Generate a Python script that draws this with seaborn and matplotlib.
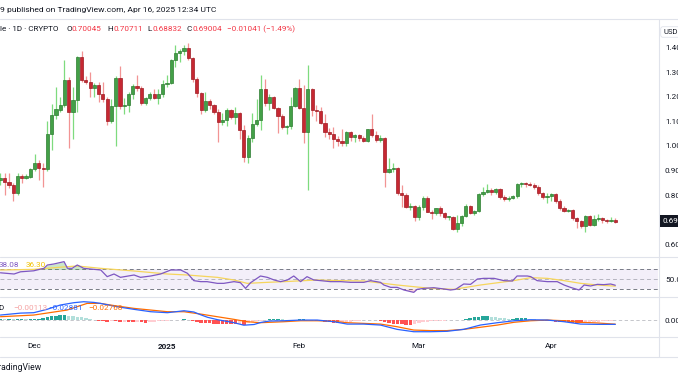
import numpy as np
import pandas as pd
import matplotlib
matplotlib.use("Agg")
import matplotlib.pyplot as plt
import seaborn as sns
from matplotlib.lines import Line2D

# ---- daily candles, Nov 23 2024 .. Apr 16 2025 ----
dates = pd.date_range("2024-11-23", "2025-04-16", freq="D")

opens = [0.860, 0.870, 0.855, 0.840, 0.810, 0.880, 0.872, 0.876, 0.905, 0.930,
         0.910, 0.905, 1.050, 1.125, 1.148, 1.165, 1.270, 1.140, 1.185, 1.360,
         1.270, 1.260, 1.235, 1.248, 1.210, 1.190, 1.100, 1.163, 1.278, 1.164,
         1.167, 1.211, 1.244, 1.237, 1.174, 1.194, 1.213, 1.197, 1.210, 1.252,
         1.257, 1.350, 1.377, 1.384, 1.397, 1.356, 1.271, 1.214, 1.146, 1.184,
         1.167, 1.140, 1.096, 1.106, 1.146, 1.119, 1.133, 1.065, 0.957, 1.031,
         1.088, 1.106, 1.232, 1.174, 1.199, 1.156, 1.123, 1.076, 1.082, 1.164,
         1.235, 1.156, 1.056, 1.230, 1.146, 1.142, 1.092, 1.056, 1.049, 1.027,
         1.022, 1.013, 1.056, 1.035, 1.045, 1.031, 1.020, 1.069, 1.045, 1.024,
         1.031, 0.896, 0.905, 0.912, 0.808, 0.800, 0.753, 0.756, 0.713, 0.751,
         0.790, 0.733, 0.726, 0.747, 0.726, 0.710, 0.712, 0.663, 0.688, 0.715,
         0.756, 0.729, 0.735, 0.804, 0.814, 0.821, 0.815, 0.824, 0.792, 0.783,
         0.790, 0.797, 0.844, 0.848, 0.845, 0.843, 0.832, 0.808, 0.792, 0.797,
         0.805, 0.778, 0.750, 0.737, 0.741, 0.706, 0.696, 0.675, 0.715, 0.679,
         0.702, 0.709, 0.698, 0.695, 0.70045]
highs = [0.890, 0.890, 0.890, 0.850, 0.890, 0.885, 0.885, 0.909, 0.967, 0.943,
         0.930, 1.100, 1.170, 1.240, 1.200, 1.350, 1.280, 1.240, 1.365, 1.385,
         1.285, 1.300, 1.255, 1.260, 1.260, 1.200, 1.190, 1.285, 1.326, 1.195,
         1.220, 1.250, 1.290, 1.245, 1.200, 1.220, 1.230, 1.230, 1.270, 1.290,
         1.355, 1.410, 1.395, 1.410, 1.420, 1.360, 1.280, 1.220, 1.220, 1.190,
         1.170, 1.150, 1.135, 1.155, 1.150, 1.160, 1.140, 1.085, 1.045, 1.135,
         1.190, 1.290, 1.272, 1.210, 1.205, 1.160, 1.130, 1.085, 1.200, 1.240,
         1.271, 1.248, 1.330, 1.235, 1.165, 1.160, 1.130, 1.075, 1.076, 1.040,
         1.070, 1.060, 1.060, 1.050, 1.050, 1.040, 1.070, 1.130, 1.060, 1.045,
         1.035, 0.950, 0.930, 0.915, 0.840, 0.810, 0.770, 0.760, 0.760, 0.795,
         0.795, 0.740, 0.750, 0.755, 0.730, 0.715, 0.715, 0.720, 0.720, 0.765,
         0.760, 0.740, 0.810, 0.835, 0.846, 0.830, 0.830, 0.830, 0.800, 0.795,
         0.800, 0.850, 0.855, 0.855, 0.855, 0.848, 0.840, 0.815, 0.810, 0.810,
         0.810, 0.785, 0.755, 0.745, 0.745, 0.713, 0.700, 0.720, 0.720, 0.720,
         0.725, 0.713, 0.702, 0.712, 0.70711]
lows = [0.840, 0.800, 0.830, 0.775, 0.800, 0.850, 0.865, 0.870, 0.900, 0.862,
        0.835, 0.900, 0.985, 1.110, 1.140, 1.160, 0.990, 1.030, 1.140, 1.260,
        1.250, 1.200, 1.200, 1.178, 1.180, 1.085, 1.095, 1.000, 1.150, 1.130,
        1.140, 1.190, 1.225, 1.165, 1.165, 1.185, 1.190, 1.170, 1.200, 1.240,
        1.250, 1.320, 1.340, 1.370, 1.350, 1.260, 1.200, 1.130, 1.140, 1.150,
        1.130, 1.017, 1.085, 1.080, 1.110, 1.090, 1.030, 0.936, 0.930, 1.015,
        1.080, 1.065, 1.164, 1.145, 1.150, 1.052, 1.070, 1.050, 1.070, 1.160,
        1.150, 1.011, 0.820, 1.120, 1.100, 1.090, 1.035, 1.030, 0.990, 1.000,
        1.000, 1.000, 1.020, 1.015, 1.020, 1.015, 1.015, 1.035, 1.015, 1.015,
        0.835, 0.890, 0.895, 0.800, 0.753, 0.750, 0.740, 0.696, 0.700, 0.740,
        0.730, 0.705, 0.720, 0.715, 0.705, 0.700, 0.660, 0.652, 0.675, 0.710,
        0.725, 0.720, 0.730, 0.795, 0.810, 0.800, 0.805, 0.785, 0.778, 0.775,
        0.785, 0.790, 0.835, 0.835, 0.838, 0.825, 0.800, 0.785, 0.770, 0.775,
        0.770, 0.740, 0.730, 0.730, 0.700, 0.665, 0.665, 0.652, 0.675, 0.675,
        0.695, 0.688, 0.688, 0.690, 0.68832]
closes = [0.870, 0.855, 0.840, 0.810, 0.880, 0.872, 0.878, 0.905, 0.930, 0.910,
          0.905, 1.050, 1.125, 1.150, 1.165, 1.270, 1.140, 1.185, 1.360, 1.270,
          1.260, 1.235, 1.248, 1.210, 1.190, 1.100, 1.163, 1.278, 1.164, 1.168,
          1.211, 1.244, 1.237, 1.174, 1.194, 1.213, 1.197, 1.210, 1.252, 1.257,
          1.350, 1.377, 1.384, 1.397, 1.356, 1.271, 1.214, 1.146, 1.184, 1.167,
          1.140, 1.096, 1.106, 1.146, 1.119, 1.133, 1.065, 0.957, 1.031, 1.088,
          1.106, 1.232, 1.174, 1.199, 1.156, 1.123, 1.076, 1.082, 1.164, 1.235,
          1.156, 1.056, 1.230, 1.146, 1.142, 1.092, 1.056, 1.049, 1.027, 1.022,
          1.013, 1.056, 1.035, 1.045, 1.031, 1.020, 1.069, 1.045, 1.024, 1.031,
          0.896, 0.905, 0.912, 0.808, 0.800, 0.753, 0.756, 0.713, 0.751, 0.790,
          0.733, 0.726, 0.747, 0.726, 0.710, 0.712, 0.663, 0.688, 0.715, 0.756,
          0.729, 0.735, 0.804, 0.814, 0.821, 0.815, 0.824, 0.792, 0.783, 0.790,
          0.797, 0.844, 0.848, 0.845, 0.843, 0.832, 0.808, 0.792, 0.797, 0.805,
          0.778, 0.750, 0.737, 0.741, 0.706, 0.696, 0.675, 0.715, 0.679, 0.702,
          0.709, 0.698, 0.695, 0.700, 0.69004]

# ---- RSI (14) and its moving average, read at day offsets ----
rsi_day = [0, 3.2, 4.7, 7.8, 10.2, 11, 12.5, 14.9, 15.7, 16.8, 18, 19.5, 21.1, 23.5, 25,
           26.6, 28.1, 31.3, 32.8, 35.2, 37.5, 39.9, 42.2, 43.8, 45.3, 46.9, 48.4, 50.8,
           52.3, 54.7, 56.2, 57.4, 58.6, 60.9, 62.5, 64.1, 65.6, 67.2, 68.7, 70.3, 71.8,
           73.4, 75, 77.3, 79.7, 82, 85.1, 86.7, 89, 89.8, 91.4, 92.9, 94.5, 96.8, 97.6,
           99.2, 101.5, 103.9, 105.4, 106.6, 108.5, 110.1, 111.7, 113.2, 115.6, 117.9,
           119.9, 121, 123.4, 124.2, 125.7, 128.1, 130.4, 132, 133.5, 135.5, 136.7,
           138.2, 139.8, 141.3, 142.9, 144]
rsi_val = [63, 60.6, 65, 67, 72, 78.6, 80.6, 85.3, 72, 72, 78.6, 72, 70.6, 68.6, 55.3,
           60.6, 53.9, 58.6, 53.9, 56.6, 60.6, 68.6, 68.6, 62, 47.3, 45.3, 45.3, 41.9,
           41.9, 45.3, 43.3, 31.9, 43.3, 56.6, 53.9, 48.6, 45.3, 48.6, 56.6, 45.3, 55.3,
           48.6, 47.3, 45.3, 45.3, 43.9, 43.9, 47.3, 43.9, 38.6, 33.9, 33.9, 28.6, 23.9,
           29.9, 31.9, 33.2, 30.6, 28.6, 29.9, 40.6, 39.9, 50.6, 51.9, 51.9, 47.3, 46.6,
           56.6, 56.6, 55.3, 47.3, 45.3, 45.3, 38.6, 33.9, 28.6, 38.6, 36.6, 39.9, 39.3,
           40.6, 38.08]
rsi_ma_day = [0, 7.8, 15.7, 18, 23.5, 31.3, 39.1, 43.8, 50.8, 54.7, 57.8, 62.5, 66.4,
              74.2, 79.6, 85.1, 92.9, 100.7, 106.2, 112.4, 120.2, 124.2, 128.1, 132,
              135.9, 139.8, 144]
rsi_ma_val = [68.6, 69.9, 75.3, 76.6, 71.9, 66.6, 60.6, 58.6, 53.9, 48.6, 41.9, 43.9,
              45.3, 48.6, 47.3, 46.6, 38.6, 31.9, 29.9, 38.6, 47.3, 53.3, 51.9, 47.3,
              41.9, 38.6, 36.30]

# ---- MACD (12, 26, 9) ----
macd_day = [0, 4.7, 7.8, 10.9, 14, 17.2, 19.5, 21.9, 23.4, 27.3, 31.3, 35.2, 39.1, 43,
            45.3, 46.9, 48.5, 50.8, 54.7, 57, 59.4, 61, 63, 66.4, 70.3, 74.2, 78.1, 81.2,
            85.1, 89, 92.9, 96.8, 100.7, 104.6, 108.5, 112.4, 116.4, 120.3, 124.2, 128.1,
            132, 135.9, 139.8, 144]
macd_val = [0.038, 0.052, 0.055, 0.079, 0.110, 0.127, 0.134, 0.129, 0.122, 0.098, 0.079,
            0.062, 0.055, 0.069, 0.060, 0.040, 0.022, 0.005, -0.017, -0.035, -0.030,
            -0.015, -0.005, -0.003, 0.002, 0.002, -0.010, -0.027, -0.027, -0.034, -0.065,
            -0.082, -0.082, -0.079, -0.065, -0.034, -0.017, -0.003, 0.004, 0.002, -0.010,
            -0.027, -0.029, -0.02881]
signal_day = [0, 7.8, 15.6, 20.3, 23.4, 27.3, 31.3, 35.2, 39.1, 43, 46.9, 50.8, 54.7,
              57.8, 60.9, 66.4, 70.3, 74.2, 78.1, 81.2, 85.1, 89, 92.9, 96.8, 100.7, 104.6,
              108.5, 112.4, 116.4, 120.3, 124.2, 128.1, 132, 135.9, 139.8, 144]
signal_val = [0.026, 0.038, 0.074, 0.122, 0.122, 0.103, 0.086, 0.074, 0.062, 0.062, 0.045,
              0.026, 0.007, -0.010, -0.017, -0.010, -0.003, -0.003, -0.007, -0.017, -0.022,
              -0.027, -0.046, -0.070, -0.074, -0.074, -0.065, -0.050, -0.034, -0.014,
              -0.003, 0.002, -0.003, -0.014, -0.019, -0.02768]
hist_val = [0.011, 0.007, 0.011, 0.007, 0.009, 0.011, 0.007, 0.009, 0.011, 0.013, 0.014,
            0.022, 0.029, 0.032, 0.036, 0.038,
            0.032, 0.029, 0.025, 0.022, 0.014, 0.011, 0.006,
            -0.004, -0.007, -0.009, -0.006, -0.007, -0.011, -0.009, -0.013, -0.014, -0.013,
            -0.014, -0.016, -0.014,
            -0.011, -0.007, -0.005, -0.003, -0.001,
            0.004, 0.006, 0.007, 0.006,
            -0.004, -0.011, -0.016, -0.020, -0.022, -0.023, -0.024, -0.025, -0.026,
            -0.027, -0.029, -0.027, -0.030,
            -0.022, -0.014, -0.007, -0.002,
            0.004, 0.007, 0.009, 0.009,
            0.007, 0.006, 0.004,
            0.006, 0.007, 0.009, 0.006, 0.004,
            -0.002, -0.006, -0.009, -0.013, -0.016, -0.018, -0.017,
            -0.013, -0.009, -0.006, -0.004, -0.001,
            0.002, 0.004, 0.004,
            -0.004, -0.011, -0.018, -0.023, -0.026, -0.029, -0.030, -0.031, -0.029,
            -0.022, -0.014, -0.009,
            -0.006, -0.004, -0.003, -0.002, -0.001, -0.001,
            0.002, 0.006, 0.011, 0.016, 0.022, 0.025, 0.029, 0.030,
            0.027, 0.023, 0.019, 0.014, 0.011,
            0.013, 0.016, 0.017, 0.018,
            0.013, 0.007, 0.002,
            -0.002, -0.004, -0.007, -0.009, -0.012,
            -0.013, -0.014, -0.017, -0.018, -0.019, -0.017,
            -0.014, -0.012, -0.009, -0.006, -0.004, -0.003, -0.00113]

# 0.70 is hidden behind the last-price tag in the original
price_ticks = [0.6, 0.8, 0.9, 1.0, 1.1, 1.2, 1.3, 1.4]
month_ticks = ["2024-12-01", "2025-01-01", "2025-02-01", "2025-03-01", "2025-04-01"]
month_labels = ["Dec", "2025", "Feb", "Mar", "Apr"]

# ---- style ----
sns.set_theme(style="white")
plt.rcParams["font.family"] = ["Roboto", "DejaVu Sans"]
TXT = "#131722"
GRID = "#E0E3EB"
FS = 5.9

W, H = 678, 381
fig = plt.figure(figsize=(W / 100, H / 100), dpi=100)
fig.patch.set_facecolor("white")


def fx(x):
    return x / W


def fy(y):
    return 1 - y / H


def pane(x0, y0, x1, y1):
    a = fig.add_axes([fx(x0), fy(y1), (x1 - x0) / W, (y1 - y0) / H])
    a.set_facecolor("white")
    for s in a.spines.values():
        s.set_visible(False)
    return a


ax_p = pane(0, 19, 658, 257)
ax_r = pane(0, 257, 658, 297)
ax_m = pane(0, 297, 658, 337)

day = np.asarray((dates - dates[0]).days, dtype=float)
o, h, l, c = map(np.array, (opens, highs, lows, closes))
up = c >= o

# candles
wick_col = np.where(up, "#7EDB7E", "#F29494")
body_col = np.where(up, "#43A047", "#C62832")
edge_col = np.where(up, "#2E7D32", "#9E1B24")
ax_p.vlines(day, l, h, colors=wick_col, linewidth=0.9, zorder=2)
body_h = np.maximum(np.abs(c - o), 0.004)
body_b = np.minimum(o, c)
ax_p.bar(day, body_h, bottom=body_b, width=0.74, color=body_col,
         edgecolor=edge_col, linewidth=0.5, zorder=3)

xmin, xmax = -0.1, 154.0
for a in (ax_p, ax_r, ax_m):
    a.set_xlim(xmin, xmax)
    a.set_xticks([])

ax_p.set_ylim(0.549, 1.516)
ax_p.yaxis.tick_right()
ax_p.set_yticks(price_ticks)
ax_p.set_yticklabels([f"{v:.2f}" for v in price_ticks])
ax_p.tick_params(axis="y", length=0, pad=5, labelsize=FS, labelcolor=TXT)

# RSI pane
ax_r.set_ylim(14.6, 94.6)
ax_r.axhspan(30, 70, color="#7E57C2", alpha=0.09, lw=0, zorder=0)
for lvl, al in ((70, 1.0), (50, 0.5), (30, 1.0)):
    ax_r.axhline(lvl, color="#787B86", lw=0.7, ls=(0, (4, 3)), alpha=al, zorder=1)
rd = np.array(rsi_day)
rv = np.array(rsi_val)
ax_r.fill_between(rd, 70, rv, where=rv > 70, interpolate=True,
                  color="#4CAF50", alpha=0.3, lw=0, zorder=1)
ax_r.fill_between(rd, 30, rv, where=rv < 30, interpolate=True,
                  color="#F23645", alpha=0.2, lw=0, zorder=1)
sns.lineplot(x=rsi_ma_day, y=rsi_ma_val, ax=ax_r, color="#F6D55C", lw=0.9,
             legend=False, zorder=2)
sns.lineplot(x=rsi_day, y=rsi_val, ax=ax_r, color="#7E57C2", lw=0.9,
             legend=False, zorder=3)
ax_r.set_xlabel("")
ax_r.set_ylabel("")
ax_r.yaxis.tick_right()
ax_r.set_yticks([50])
ax_r.set_yticklabels(["50.0"])
ax_r.tick_params(axis="y", length=0, pad=5, labelsize=FS, labelcolor=TXT)

# MACD pane
ax_m.set_ylim(-0.120, 0.168)
hv = np.array(hist_val)
prev = np.concatenate([[hv[0]], hv[:-1]])
hcol = np.where(hv >= 0,
                np.where(hv >= prev, "#26A69A", "#B2DFDB"),
                np.where(hv <= prev, "#FF5252", "#FFCDD2"))
ax_m.bar(day, hv, width=0.8, color=hcol, lw=0, zorder=1)
ax_m.axhline(0, color="#787B86", lw=0.6, ls=(0, (4, 3)), alpha=0.5, zorder=0)
sns.lineplot(x=macd_day, y=macd_val, ax=ax_m, color="#2962FF", lw=0.9,
             legend=False, zorder=3)
sns.lineplot(x=signal_day, y=signal_val, ax=ax_m, color="#FF6D00", lw=0.9,
             legend=False, zorder=2)
ax_m.set_xlabel("")
ax_m.set_ylabel("")
ax_m.yaxis.tick_right()
ax_m.set_yticks([0])
ax_m.set_yticklabels(["0.00"])
ax_m.tick_params(axis="y", length=0, pad=5, labelsize=FS, labelcolor=TXT)

# time axis labels
tick_pos = [(pd.Timestamp(t) - dates[0]).days for t in month_ticks]
ax_m.set_xticks(tick_pos)
ax_m.set_xticklabels(month_labels)
ax_m.tick_params(axis="x", length=0, pad=4.5, labelsize=FS, labelcolor=TXT)
for lab in ax_m.get_xticklabels():
    if lab.get_text() == "2025":
        lab.set_fontweight("bold")

# pane separators
for yy in (19, 257, 297, 337, 356.5):
    fig.add_artist(Line2D([0, 1], [fy(yy), fy(yy)], color=GRID, lw=0.8))
fig.add_artist(Line2D([fx(658.5), fx(658.5)], [fy(19), fy(356.5)], color=GRID, lw=0.8))

# header and legends
fig.text(fx(0), fy(10), "9 published on TradingView.com, Apr 16, 2025 12:34 UTC",
         fontsize=FS + 0.2, color=TXT, va="center")
red = "#F23645"
leg_y = fy(29)
fig.text(fx(0), leg_y, "le · 1D · CRYPTO", fontsize=FS, color=TXT, va="center")
for lx, s, col in ((66.5, "O", TXT), (71.5, "0.70045", red),
                   (107.5, "H", TXT), (113, "0.70711", red),
                   (147.5, "L", TXT), (152.5, "0.68832", red),
                   (186.5, "C", TXT), (192.5, "0.69004", red),
                   (227, "\u22120.01041 (\u22121.49%)", red)):
    fig.text(fx(lx), leg_y, s, fontsize=FS, color=col, va="center")

fig.text(fx(-1), fy(265), "38.08", fontsize=FS, color="#7E57C2", va="center")
fig.text(fx(26), fy(265), "36.30", fontsize=FS, color="#F2C200", va="center")

mac_y = fy(308)
fig.text(fx(-2), mac_y, "D", fontsize=FS, color=TXT, va="center")
fig.text(fx(13), mac_y, "\u22120.00113", fontsize=FS, color="#F5A3A3", va="center")
fig.text(fx(48), mac_y, "\u22120.02881", fontsize=FS, color="#2962FF", va="center")
fig.text(fx(88), mac_y, "\u22120.02768", fontsize=FS, color="#FF6D00", va="center")

# price scale extras
fig.text(fx(663), fy(32), "USD", fontsize=FS - 0.4, color=TXT, va="center",
         bbox=dict(boxstyle="round,pad=0.3", fc="white", ec=GRID, lw=0.6))
fig.text(fx(662.5), fy(221), "0.69", fontsize=FS, color="white", va="center",
         bbox=dict(boxstyle="square,pad=0.35", fc=TXT, ec="none"))

# footer
fig.text(fx(42), fy(368), "TradingView", fontsize=6.2, color=TXT, va="center",
         ha="right")

fig.savefig("out.png", dpi=100, facecolor="white")
